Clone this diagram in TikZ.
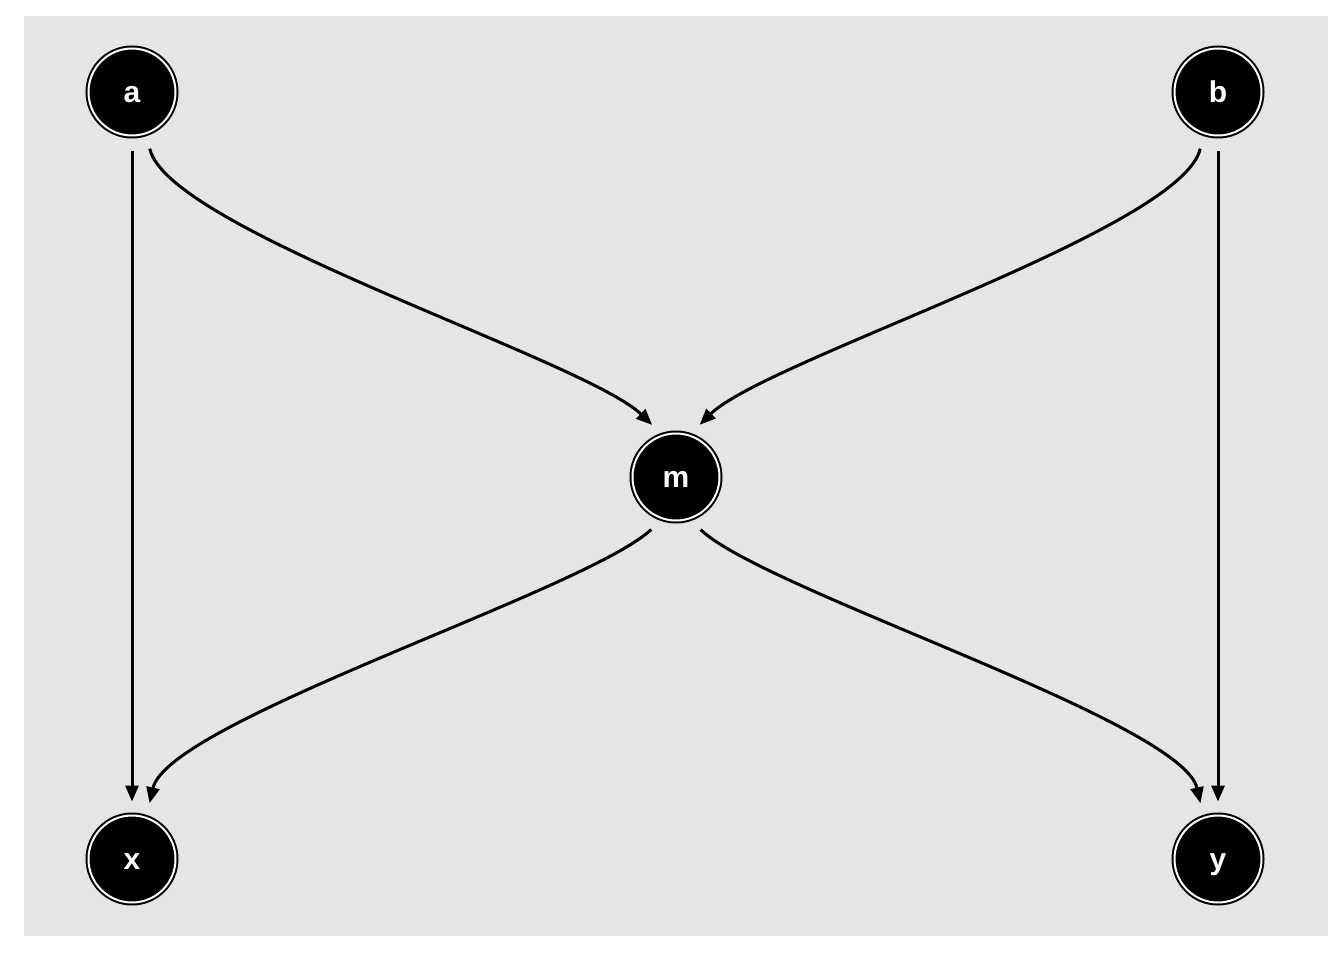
\documentclass[tikz,border=0pt]{standalone}
\usepackage{fontspec}
\setmainfont{Liberation Sans}
\usetikzlibrary{arrows.meta}
\definecolor{bggray}{RGB}{229,229,229}
\begin{document}
\begin{tikzpicture}[x=1pt,y=-1pt,
  vnode/.style={circle, inner sep=0pt, minimum size=87pt, draw=black, line width=2pt,
    double=white, double distance=2pt, fill=black, text=white,
    text height=21.5pt, text depth=0pt,
    font=\fontsize{30}{30}\selectfont\bfseries},
  edge/.style={line width=3pt, -{Triangle[length=16pt,width=13pt]}}]
\useasboundingbox (0,0) rectangle (1344,960);
\fill[bggray] (24,16) rectangle (1328,936);
\node[vnode] (a) at (132,92) {a};
\node[vnode] (b) at (1218,92) {b};
\node[vnode] (m) at (676,477) {m};
\node[vnode] (x) at (132,859) {x};
\node[vnode] (y) at (1218,859) {y};
\draw[edge, shorten <=15pt, shorten >=13pt] (a.-90) -- (x.90);
\draw[edge, shorten <=15pt, shorten >=13pt] (b.-90) -- (y.90);
\draw[edge, shorten <=15pt, shorten >=14pt] (a.-71) .. controls (168,230) and (585,360) .. (m.108);
\draw[edge, shorten <=15pt, shorten >=14pt] (b.-109) .. controls (1182,230) and (765,360) .. (m.72);
\draw[edge, shorten <=15pt, shorten >=14pt] (m.-108) .. controls (585,591) and (168,721) .. (x.71);
\draw[edge, shorten <=15pt, shorten >=14pt] (m.-72) .. controls (765,591) and (1182,721) .. (y.109);
\end{tikzpicture}
\end{document}
